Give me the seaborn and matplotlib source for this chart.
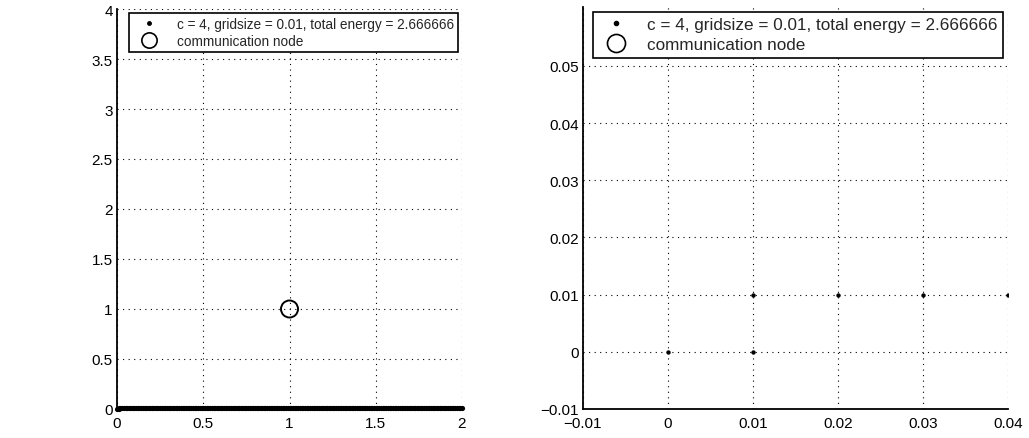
import numpy as np
import pandas as pd
import matplotlib
matplotlib.use("Agg")
import matplotlib.pyplot as plt
import seaborn as sns
from matplotlib.lines import Line2D

# ---- data ----
gridsize = 0.01
# start of the path
path_start_x = [0.00, 0.01]
path_start_y = [0.00, 0.00]
# path then follows y = 0.01 on the grid up to x = 2
path_level_y = 0.01
path_end_x = 2.0
comm_node_x = [1.0]
comm_node_y = [1.0]

legend_labels = ["c = 4, gridsize = 0.01, total energy = 2.666666", "communication node"]

left_xticks = [0, 0.5, 1, 1.5, 2]
left_xticklabels = ["0", "0.5", "1", "1.5", "2"]
left_yticks = [0, 0.5, 1, 1.5, 2, 2.5, 3, 3.5, 4]
left_yticklabels = ["0", "0.5", "1", "1.5", "2", "2.5", "3", "3.5", "4"]
right_xticks = [-0.01, 0, 0.01, 0.02, 0.03, 0.04]
right_xticklabels = ["\u22120.01", "0", "0.01", "0.02", "0.03", "0.04"]
right_yticks = [-0.01, 0, 0.01, 0.02, 0.03, 0.04, 0.05]
right_yticklabels = ["\u22120.01", "0", "0.01", "0.02", "0.03", "0.04", "0.05"]

level_x = np.round(np.arange(0.01, path_end_x + 1e-9, gridsize), 2)
path = pd.DataFrame({
    "x": np.concatenate([path_start_x, level_x]),
    "y": np.concatenate([path_start_y, np.full(level_x.size, path_level_y)]),
})
node = pd.DataFrame({"x": comm_node_x, "y": comm_node_y})

sns.set_theme(style="white")
plt.rcParams["font.family"] = ["Liberation Sans", "DejaVu Sans"]

fig = plt.figure(figsize=(10.29, 4.39), dpi=100)
axL = fig.add_axes([117/1029, 1-410/439, (462-117)/1029, 400/439])
axR = fig.add_axes([583/1029, 1-410/439, (1008-583)/1029, 402/439])

def style(ax, xt, xtl, yt, ytl):
    ax.set_xticks(xt)
    ax.set_xticklabels(xtl)
    ax.set_yticks(yt)
    ax.set_yticklabels(ytl)
    ax.grid(True, color="black", linestyle=(0, (1, 4)), linewidth=0.8)
    for s in ["top", "right"]:
        ax.spines[s].set_visible(False)
    for s in ["left", "bottom"]:
        ax.spines[s].set_color("black")
        ax.spines[s].set_linewidth(1.3)
    ax.tick_params(direction="in", length=4, width=1, colors="black",
                   labelsize=11)
    ax.tick_params(axis="x", pad=5)
    ax.tick_params(axis="y", pad=3)
    ax.set_xlabel("")
    ax.set_ylabel("")

# left panel
sns.scatterplot(data=path, x="x", y="y", ax=axL, color="black", s=14,
                linewidth=0, clip_on=False, legend=False, zorder=3)
sns.scatterplot(data=node, x="x", y="y", ax=axL, marker="o", s=150,
                facecolor="none", edgecolor="black", linewidth=1.4,
                legend=False, zorder=3)
axL.set_xlim(0, 2)
axL.set_ylim(0, 4)
style(axL, left_xticks, left_xticklabels, left_yticks, left_yticklabels)

# right panel
sns.scatterplot(data=path, x="x", y="y", ax=axR, color="black", s=10,
                linewidth=0, legend=False, zorder=3)
axR.set_xlim(-0.01, 0.04)
axR.set_ylim(-0.01, 0.0603)
style(axR, right_xticks, right_xticklabels, right_yticks, right_yticklabels)

def make_legend(ax, fs, ms_dot, ms_circ, spacing, hl):
    handles = [
        Line2D([], [], linestyle="none", marker=".", color="black", markersize=ms_dot),
        Line2D([], [], linestyle="none", marker="o", markerfacecolor="none",
               markeredgecolor="black", markersize=ms_circ, markeredgewidth=1.2),
    ]
    leg = ax.legend(handles, legend_labels, loc="upper right", fontsize=fs,
                    frameon=True, fancybox=False, framealpha=1,
                    edgecolor="black", handlelength=hl, handletextpad=0.8,
                    borderpad=0.3, labelspacing=spacing, borderaxespad=0.3)
    leg.get_frame().set_linewidth(1.2)
    return leg

make_legend(axL, 9.8, 5, 11, 0.2, 2.4)
make_legend(axR, 12.3, 6, 13, 0.3, 2.1)

fig.savefig("out.png", dpi=100, facecolor="white")
